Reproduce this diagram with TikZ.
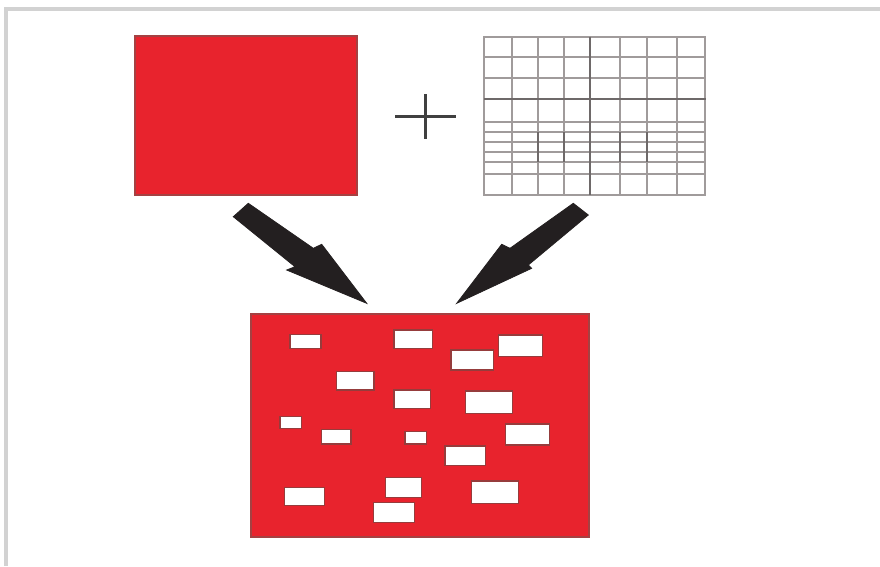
\documentclass[tikz,border=0pt]{standalone}
\usetikzlibrary{calc}
\definecolor{redfill}{RGB}{232,35,45}
\definecolor{rededge}{RGB}{165,65,66}
\definecolor{holeedge}{RGB}{150,60,60}
\definecolor{framegray}{RGB}{210,210,210}
\definecolor{gridgray}{RGB}{160,155,155}
\definecolor{griddark}{RGB}{110,105,105}
\definecolor{arrowblack}{RGB}{35,31,32}
\tikzset{
  redbox/.style={rectangle, fill=redfill, draw=rededge, line width=1.2pt, inner sep=0pt},
  gridbox/.style={rectangle, fill=white, draw=gridgray, line width=1.8pt, inner sep=0pt},
  hole/.style={rectangle, fill=white, draw=holeedge, line width=1.5pt, inner sep=0pt},
  gline/.style={gridgray, line width=1.7pt},
  gdark/.style={griddark, line width=1.8pt},
  blockarrow/.style={fill=arrowblack, draw=arrowblack, line width=0.8pt, line join=miter},
  plusline/.style={draw=black!75, line width=3.8pt}
}
\begin{document}
\begin{tikzpicture}[x=1pt,y=-1pt]
\useasboundingbox (0,0) rectangle (880,566);
% frame
\coordinate (ftl) at (5.8,8.5);
\coordinate (ftr) at (880,8.5);
\coordinate (fbl) at (5.8,566);
\draw[framegray, line width=4pt] (ftr) -- (ftl) -- (fbl);

% source red block
\node[redbox, minimum width=222pt, minimum height=159pt] (src) at (246,115.5) {};

% grid block
\node[gridbox, minimum width=221pt, minimum height=158pt] (grid) at (594.5,116) {};
\foreach \x in {511.7,538.3,564.3,620,646.7,676.7}
  \draw[gline] (\x,36.7) -- (\x,195);
\foreach \y in {57.3,78.3,121.7,132.3,142.3,151.7,162.3,174.3}
  \draw[gline] (484,\y) -- (705.5,\y);
\draw[gdark] (590,36.7) -- (590,195);
\draw[gdark] (484,99) -- (705.5,99);
\foreach \x in {538.3,564.3,620,646.7}
  \draw[gdark] (\x,132.3) -- (\x,162.3);

% plus
\node[inner sep=0pt, minimum width=60pt, minimum height=44pt] (plus) at (425.5,116.5) {};
\draw[plusline] (plus.west) -- (plus.east);
\draw[plusline] (plus.north) -- (plus.south);

% result block
\node[redbox, minimum width=338pt, minimum height=223pt] (res) at (420,425.5) {};

% holes
\foreach \n/\xa/\ya/\xb/\yb in {
  h1/290/334.3/321/348.3,
  h2/394/330/432.7/348.3,
  h3/498.3/335/542.3/356.7,
  h4/451/350/493.3/370,
  h5/336.7/371.7/374/390,
  h6/394/390/430.7/408.3,
  h7/465.7/391/512.3/413.3,
  h8/280/416.7/301.7/428.3,
  h9/321.7/429.3/351/444,
  h10/405/431.7/426.7/444,
  h11/505.7/424/549.3/445,
  h12/445/446/485.3/465.7,
  h13/284.3/487.3/324.3/505.7,
  h14/385.7/477.7/421.3/497.3,
  h15/471.7/481/518.3/503.3,
  h16/373.3/502.7/414.3/522.7}
  \node[hole, minimum width={\xb-\xa}, minimum height={\yb-\ya}] (\n) at ({(\xa+\xb)/2},{(\ya+\yb)/2}) {};

% arrows
\coordinate (lt1) at (233.3,216.7);
\coordinate (lt2) at (248.3,203.3);
\coordinate (ln1) at (313.3,248.3);
\coordinate (lb1) at (321.7,244.3);
\coordinate (ltip) at (366.7,303.3);
\coordinate (lb2) at (286.7,270);
\coordinate (ln2) at (295,266.7);
\fill[blockarrow] (lt1) -- (lt2) -- (ln1) -- (lb1) -- (ltip) -- (lb2) -- (ln2) -- cycle;

\coordinate (rt1) at (588.3,215);
\coordinate (rt2) at (573.3,203.3);
\coordinate (rn1) at (510,248.3);
\coordinate (rb1) at (501.7,244.3);
\coordinate (rtip) at (456.7,303.3);
\coordinate (rb2) at (531.7,268.3);
\coordinate (rn2) at (528.3,265);
\fill[blockarrow] (rt1) -- (rt2) -- (rn1) -- (rb1) -- (rtip) -- (rb2) -- (rn2) -- cycle;
\end{tikzpicture}
\end{document}
